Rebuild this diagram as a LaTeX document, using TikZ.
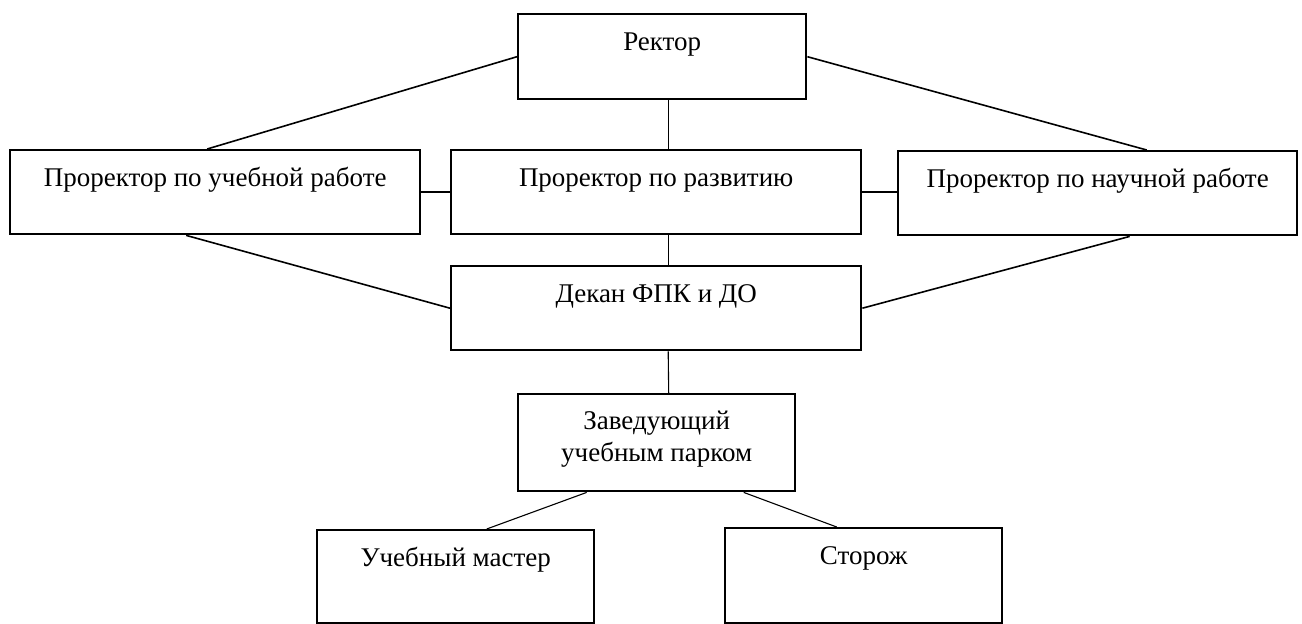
\documentclass[tikz,border=0pt]{standalone}
\usepackage{fontspec}
\setmainfont{Liberation Serif}
\usepackage{tikz}

\tikzset{
  box/.style={draw, line width=2.4pt, inner sep=0pt, anchor=north west,
    align=center, text height=36pt, font=\fontsize{27}{32}\selectfont},
  link/.style={line width=1.6pt},
  thinlink/.style={line width=1.1pt}
}

\begin{document}
\begin{tikzpicture}[x=1pt,y=-1pt]
\useasboundingbox (0,0) rectangle (1302,624);

% boxes
\node[box, minimum width=288pt, text depth=49pt] (rector) at (517,13) {Ректор};
\node[box, minimum width=410pt, text depth=48pt] (ucheb) at (9,149) {Проректор по учебной работе};
\node[box, minimum width=410pt, text depth=48pt] (razv) at (450,149) {Проректор по развитию};
\node[box, minimum width=399pt, text depth=48pt] (nauch) at (897,150) {Проректор по научной работе};
\node[box, minimum width=410pt, text depth=48pt] (dekan) at (450,265) {Декан ФПК и ДО};
\node[box, minimum width=277pt, text height=67pt, text depth=30pt] (zav) at (517,393) {Заведующий\\учебным парком};
\node[box, minimum width=277pt, text depth=57pt] (master) at (316,529) {Учебный мастер};
\node[box, minimum width=277pt, text depth=59pt] (storozh) at (724,527) {Сторож};

% connectors
\draw[link] (rector.west) -- ([xshift=-8pt]ucheb.north);
\draw[link] (rector.east) -- ([xshift=49pt]nauch.north);
\draw[link] ([xshift=-29pt]ucheb.south) -- (dekan.west);
\draw[link] (dekan.east) -- ([xshift=32pt]nauch.south);
\draw[link] (ucheb.east) -- (razv.west);
\draw[link] (razv.east) -- (razv.east -| nauch.west);
\draw[thinlink] ([xshift=6pt]rector.south) -- ([xshift=12pt]razv.north);
\draw[thinlink] ([xshift=12pt]razv.south) -- ([xshift=12pt]dekan.north);
\draw[thinlink] ([xshift=12pt]dekan.south) -- ([xshift=12pt]zav.north);
\draw[thinlink] ([xshift=-70pt]zav.south) -- ([xshift=31pt]master.north);
\draw[thinlink] ([xshift=87pt]zav.south) -- ([xshift=-27pt]storozh.north);
\end{tikzpicture}
\end{document}
